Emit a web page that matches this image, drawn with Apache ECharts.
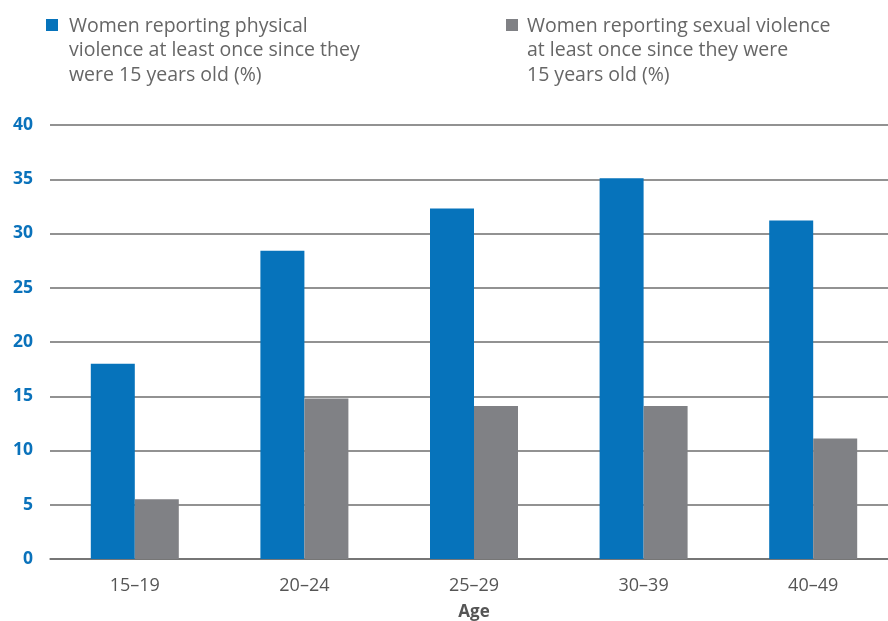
<!DOCTYPE html>
<html>
<head>
<meta charset="utf-8">
<script src="https://cdn.jsdelivr.net/npm/echarts@6/dist/echarts.min.js"></script>
<style>html,body{margin:0;padding:0;background:#fff}#c{width:888px;height:621px}</style>
</head>
<body>
<div id="c"></div>
<script>
var categories = ['15–19', '20–24', '25–29', '30–39', '40–49'];
var physical = [18.0, 28.4, 32.3, 35.1, 31.2];
var sexual = [5.5, 14.8, 14.1, 14.1, 11.1];
var yTicks = [0, 5, 10, 15, 20, 25, 30, 35, 40];
var physName = 'Women reporting physical\nviolence at least once since they\nwere 15 years old (%)';
var sexName = 'Women reporting sexual violence\nat least once since they were\n15 years old (%)';
var colors = ['#0673bb', '#808185'];

var font = '"Open Sans", "Noto Sans", sans-serif';
var chart = echarts.init(document.getElementById('c'));
function legendItem(x, textX, name, color) {
  return {
    type: 'group', left: x, top: 14,
    children: [
      {type: 'rect', shape: {x: 0, y: 5, width: 12, height: 12}, style: {fill: color}},
      {type: 'text', x: textX, y: 0, style: {text: name, fill: '#666', fontSize: 19.5, fontFamily: font, lineHeight: 24.5, verticalAlign: 'top'}}
    ]
  };
}
chart.setOption({
  animation: false,
  graphic: [legendItem(46, 23, physName, colors[0]), legendItem(506, 21, sexName, colors[1])],
  grid: {left: 50, width: 848, top: 125, bottom: 62, containLabel: false, outerBoundsMode: 'none'},
  xAxis: {
    type: 'category', data: categories,
    axisLine: {lineStyle: {color: '#6e6e6e', width: 1.5}},
    axisTick: {show: false},
    axisLabel: {color: '#555', fontSize: 18, fontFamily: font, margin: 18},
    name: 'Age', nameLocation: 'middle', nameGap: 45,
    nameTextStyle: {color: '#555', fontSize: 17, fontWeight: 'bold', fontFamily: font}
  },
  yAxis: {
    type: 'value', min: yTicks[0], max: yTicks[yTicks.length - 1], interval: 5,
    axisLine: {show: false}, axisTick: {show: false},
    axisLabel: {color: '#0a72bb', fontSize: 17.5, fontWeight: 'bold', fontFamily: font, margin: 17},
    splitLine: {lineStyle: {color: '#6e6e6e', width: 1.5}}
  },
  series: [
    {name: physName, type: 'bar', data: physical, barWidth: 44, barGap: '0%', itemStyle: {color: colors[0]}},
    {name: sexName, type: 'bar', data: sexual, barWidth: 44, barGap: '0%', itemStyle: {color: colors[1]}}
  ]
});
</script>
</body>
</html>
